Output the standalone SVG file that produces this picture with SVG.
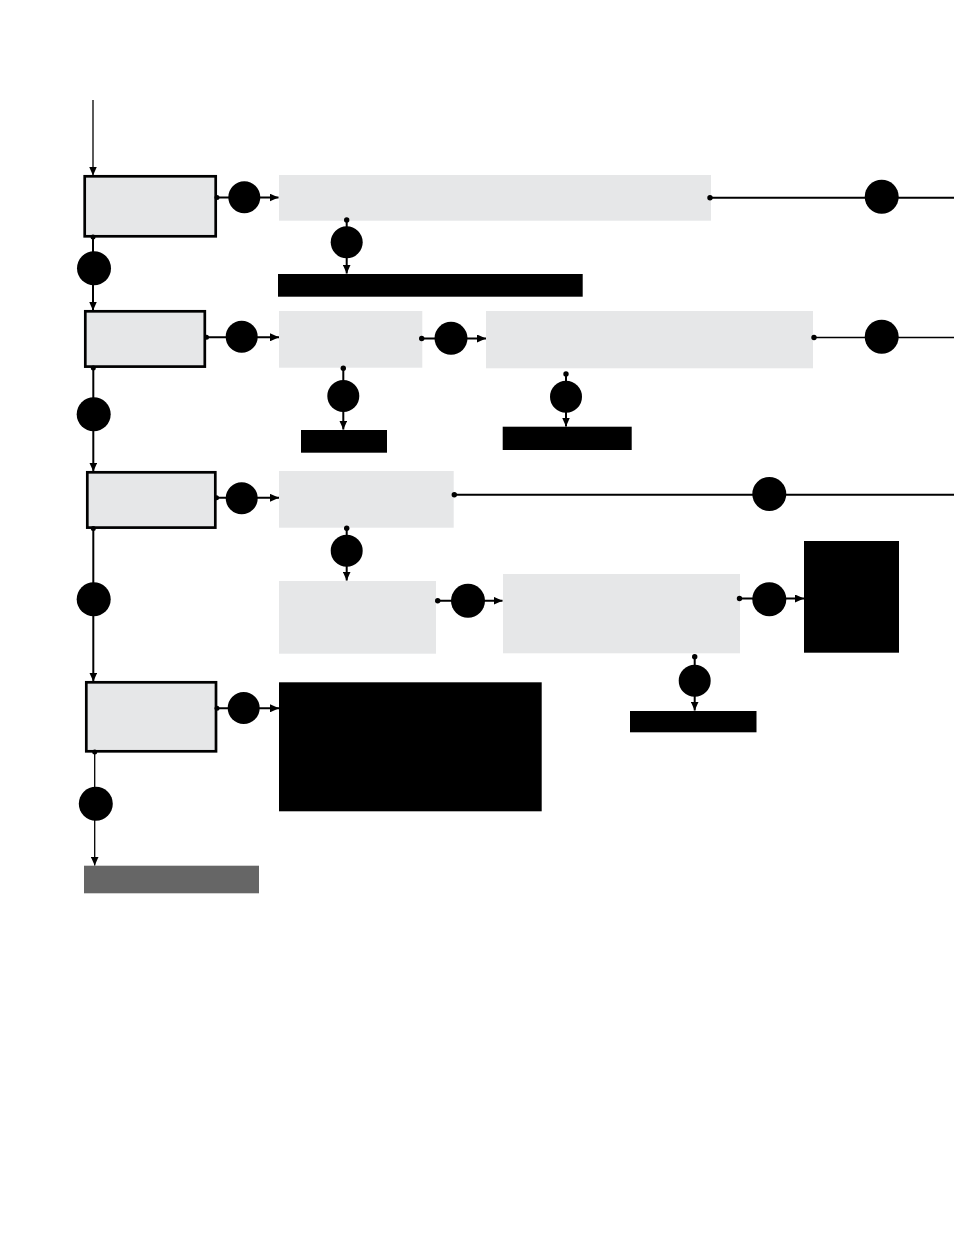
<svg xmlns="http://www.w3.org/2000/svg" width="954" height="1235" viewBox="0 0 954 1235">
<style>
.box{fill:#e6e7e8;stroke:#000;stroke-width:2.7}
.pale{fill:#e6e7e8}
.blk{fill:#000}
.dark{fill:#666666}
.ln{stroke:#000;stroke-width:2;fill:none}
.thin{stroke:#000;stroke-width:1.3;fill:none}
.arr{marker-end:url(#ah)}
.dot{fill:#000}
.badge{fill:#000}
</style>
<defs>
<marker id="ah" markerUnits="userSpaceOnUse" markerWidth="10" markerHeight="8" refX="9" refY="4" orient="auto">
<path d="M0,0 L9,4 L0,8 z" fill="#000"/>
</marker>
</defs>
<rect width="954" height="1235" fill="#fff"/>
<g id="nodes">
<g id="n1"><rect class="box" x="84.7" y="176.3" width="131" height="60"/></g>
<g id="n1a"><rect class="pale" x="279" y="175" width="432" height="45.7"/></g>
<g id="n1b"><rect class="blk" x="278" y="274" width="304.7" height="22.7"/></g>
<g id="n2"><rect class="box" x="85.3" y="311.3" width="119.5" height="55.3"/></g>
<g id="n2a"><rect class="pale" x="279" y="311" width="143.3" height="56.7"/></g>
<g id="n2b"><rect class="blk" x="301" y="430" width="86" height="22.7"/></g>
<g id="n2c"><rect class="pale" x="486" y="311" width="327" height="57.3"/></g>
<g id="n2d"><rect class="blk" x="502.7" y="426.7" width="129" height="23.3"/></g>
<g id="n3"><rect class="box" x="87.3" y="472.3" width="128" height="55.3"/></g>
<g id="n3a"><rect class="pale" x="279" y="471" width="174.7" height="56.7"/></g>
<g id="n3b"><rect class="pale" x="279" y="581" width="157" height="72.7"/></g>
<g id="n3c"><rect class="pale" x="503" y="574" width="237" height="79.3"/></g>
<g id="n3d"><rect class="blk" x="804" y="541" width="95" height="111.7"/></g>
<g id="n3e"><rect class="blk" x="630" y="711" width="126.5" height="21.3"/></g>
<g id="n4"><rect class="box" x="86.3" y="682.3" width="129.7" height="69"/></g>
<g id="n4a"><rect class="blk" x="279" y="682.3" width="262.7" height="129"/></g>
<g id="n5"><rect class="dark" x="84" y="865.7" width="175" height="27.6"/></g>
</g>
<g id="connectors">
<line class="thin arr" x1="93" y1="100" x2="93" y2="175.5"/>
<line class="ln arr" x1="217" y1="197.5" x2="278.5" y2="197.5"/>
<line class="ln" x1="710" y1="197.7" x2="954" y2="197.7"/>
<line class="ln arr" x1="346.7" y1="220" x2="346.7" y2="273.5"/>
<line class="ln arr" x1="93" y1="237" x2="93" y2="310.5"/>
<line class="ln arr" x1="206.5" y1="337.3" x2="279" y2="337.3"/>
<line class="ln arr" x1="421.7" y1="338.5" x2="486" y2="338.5"/>
<line class="thin" x1="814" y1="337.5" x2="954" y2="337.5"/>
<line class="ln arr" x1="343.3" y1="368.3" x2="343.3" y2="429.5"/>
<line class="ln arr" x1="566" y1="374" x2="566" y2="426.5"/>
<line class="ln arr" x1="93.3" y1="368" x2="93.3" y2="471.5"/>
<line class="ln arr" x1="216.5" y1="497.8" x2="279" y2="497.8"/>
<line class="ln" x1="454.3" y1="494.7" x2="954" y2="494.7"/>
<line class="ln arr" x1="346.7" y1="528.3" x2="346.7" y2="580.5"/>
<line class="ln arr" x1="437.7" y1="600.7" x2="502.5" y2="600.7"/>
<line class="ln arr" x1="739.5" y1="598.5" x2="804" y2="598.5"/>
<line class="ln arr" x1="694.7" y1="656.7" x2="694.7" y2="710.5"/>
<line class="ln arr" x1="93.3" y1="528.5" x2="93.3" y2="681.5"/>
<line class="ln arr" x1="217" y1="708.3" x2="279" y2="708.3"/>
<line class="thin arr" x1="94.7" y1="752" x2="94.7" y2="865.5"/>
</g>
<g id="dots">
<circle class="dot" cx="217" cy="197.5" r="2.5"/>
<circle class="dot" cx="710" cy="197.7" r="2.7"/>
<circle class="dot" cx="346.7" cy="220" r="2.7"/>
<circle class="dot" cx="93" cy="237" r="2.5"/>
<circle class="dot" cx="206.5" cy="337.3" r="2.5"/>
<circle class="dot" cx="421.7" cy="338.5" r="2.7"/>
<circle class="dot" cx="814" cy="337.5" r="2.7"/>
<circle class="dot" cx="343.3" cy="368.3" r="2.7"/>
<circle class="dot" cx="566" cy="374" r="2.7"/>
<circle class="dot" cx="93.3" cy="368" r="2.5"/>
<circle class="dot" cx="216.5" cy="497.8" r="2.5"/>
<circle class="dot" cx="454.3" cy="494.7" r="2.7"/>
<circle class="dot" cx="346.7" cy="528.3" r="2.7"/>
<circle class="dot" cx="93.3" cy="528.5" r="2.5"/>
<circle class="dot" cx="437.7" cy="600.7" r="2.7"/>
<circle class="dot" cx="739.5" cy="598.5" r="2.7"/>
<circle class="dot" cx="694.7" cy="656.7" r="2.7"/>
<circle class="dot" cx="217" cy="708.3" r="2.5"/>
<circle class="dot" cx="94.7" cy="752" r="2.5"/>
</g>
<g id="badges">
<circle class="badge" cx="244.3" cy="197.3" r="16"/>
<circle class="badge" cx="881.7" cy="196.7" r="17"/>
<circle class="badge" cx="346.7" cy="242.3" r="16"/>
<circle class="badge" cx="94" cy="268.3" r="17"/>
<circle class="badge" cx="241.7" cy="336.7" r="16"/>
<circle class="badge" cx="451" cy="338.3" r="16.5"/>
<circle class="badge" cx="881.7" cy="336.7" r="17"/>
<circle class="badge" cx="343.3" cy="396" r="16"/>
<circle class="badge" cx="566" cy="396.7" r="16"/>
<circle class="badge" cx="93.7" cy="414.3" r="17"/>
<circle class="badge" cx="241.7" cy="498.3" r="16"/>
<circle class="badge" cx="769.3" cy="494" r="17"/>
<circle class="badge" cx="346.7" cy="550.7" r="16"/>
<circle class="badge" cx="468" cy="600.7" r="17"/>
<circle class="badge" cx="769.3" cy="599.3" r="17"/>
<circle class="badge" cx="694.7" cy="680.7" r="16"/>
<circle class="badge" cx="93.7" cy="599.3" r="17"/>
<circle class="badge" cx="243.7" cy="708" r="16"/>
<circle class="badge" cx="95.8" cy="803.7" r="17"/>
</g>
</svg>
